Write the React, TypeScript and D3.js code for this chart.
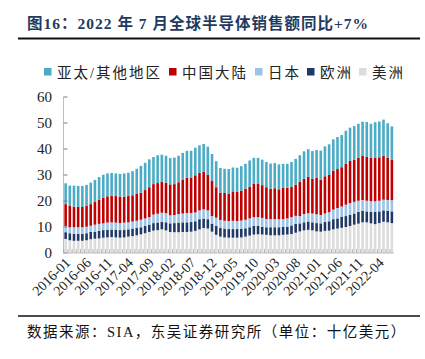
import React from "react";
import * as d3 from "d3";

const months = [
  "2016-01","2016-02","2016-03","2016-04","2016-05","2016-06","2016-07","2016-08","2016-09","2016-10","2016-11","2016-12",
  "2017-01","2017-02","2017-03","2017-04","2017-05","2017-06","2017-07","2017-08","2017-09","2017-10","2017-11","2017-12",
  "2018-01","2018-02","2018-03","2018-04","2018-05","2018-06","2018-07","2018-08","2018-09","2018-10","2018-11","2018-12",
  "2019-01","2019-02","2019-03","2019-04","2019-05","2019-06","2019-07","2019-08","2019-09","2019-10","2019-11","2019-12",
  "2020-01","2020-02","2020-03","2020-04","2020-05","2020-06","2020-07","2020-08","2020-09","2020-10","2020-11","2020-12",
  "2021-01","2021-02","2021-03","2021-04","2021-05","2021-06","2021-07","2021-08","2021-09","2021-10","2021-11","2021-12",
  "2022-01","2022-02","2022-03","2022-04","2022-05","2022-06","2022-07",
];

const tickLabels = [
  "2016-01","2016-06","2016-11","2017-04","2017-09","2018-02","2018-07","2018-12",
  "2019-05","2019-10","2020-03","2020-08","2021-01","2021-06","2021-11","2022-04",
];

const yTicks = [0, 10, 20, 30, 40, 50, 60];

const americas = [
  5.4,4.9,4.7,4.7,4.7,4.9,5.3,5.5,5.6,5.9,
  6.0,6.1,6.0,5.9,6.0,6.3,6.5,6.8,7.2,7.6,
  8.1,8.6,8.8,9.1,8.7,8.1,8.0,8.0,8.1,8.1,
  8.2,8.5,9.1,9.6,9.4,8.2,7.0,6.3,6.0,5.9,
  5.9,5.9,6.0,6.3,6.7,7.1,7.2,7.1,7.0,6.8,
  6.8,6.8,7.0,7.1,7.3,7.8,8.3,8.7,8.9,8.7,
  8.3,8.2,8.5,8.6,9.1,9.4,9.7,10.0,10.4,10.9,
  11.3,11.8,11.8,11.4,11.1,11.5,12.0,11.8,11.5,
];
const europe = [
  2.6,2.7,2.7,2.6,2.7,2.7,2.8,2.7,2.9,2.9,
  2.9,2.9,2.9,2.9,2.9,2.8,2.9,2.8,2.7,2.8,
  2.8,2.9,2.9,2.9,3.1,3.3,3.5,3.7,3.7,3.7,
  3.7,3.7,3.9,3.6,3.6,3.1,3.5,3.3,3.4,3.3,
  3.3,3.3,3.3,3.2,3.2,3.3,3.2,3.0,2.9,3.1,
  3.1,3.1,3.0,3.0,3.3,3.4,3.1,3.1,3.2,3.1,
  3.2,3.2,3.4,3.6,3.9,3.9,4.3,4.2,4.3,4.3,
  4.5,4.4,4.2,4.4,4.8,4.5,4.4,4.4,4.5,
];
const japan = [
  2.4,2.3,2.5,2.6,2.5,2.5,2.4,2.7,2.7,2.6,
  2.8,2.8,2.8,2.7,2.8,2.7,2.7,2.8,2.9,2.9,
  2.9,3.3,3.4,3.5,3.5,3.1,3.1,3.3,3.4,3.6,
  3.5,3.4,3.4,3.6,3.4,2.9,3.1,3.1,3.0,3.1,
  3.2,3.1,3.2,3.3,3.4,3.4,3.4,3.4,3.2,3.1,
  3.1,3.1,3.0,3.2,3.2,3.1,2.8,3.2,3.2,3.4,
  3.4,3.2,3.3,3.5,3.7,4.0,3.9,4.4,4.5,4.5,
  4.3,4.2,4.1,4.1,4.0,4.1,4.1,4.2,4.3,
];
const china = [
  8.4,8.2,7.9,7.8,7.8,8.0,8.3,8.7,9.2,9.9,
  10.1,10.2,10.2,10.2,10.0,10.1,10.1,10.3,10.4,10.9,
  11.5,11.7,11.8,11.9,11.7,11.9,11.9,12.2,12.9,13.5,
  13.6,14.3,14.4,14.4,13.7,13.5,11.7,10.5,10.7,10.6,
  11.3,11.3,11.5,11.9,12.2,12.8,12.9,12.6,12.2,11.7,
  11.9,11.5,12.0,11.8,11.7,12.0,13.2,13.5,14.0,13.4,
  14.0,13.6,14.3,14.3,15.0,15.0,15.1,15.7,16.2,16.1,
  16.5,16.9,16.9,16.7,16.7,16.7,16.9,16.2,15.5,
];
const apac = [
  8.0,7.8,8.1,8.1,8.1,8.1,8.3,8.5,8.8,8.8,
  8.8,8.8,8.7,8.7,8.9,9.0,9.3,9.7,10.3,10.5,
  10.7,10.4,10.7,10.4,10.4,10.1,10.2,10.2,10.4,10.4,
  10.3,10.6,10.6,10.7,10.8,10.4,10.0,9.5,9.3,9.4,
  9.2,9.2,9.4,9.6,10.1,10.0,9.9,9.8,9.7,9.7,
  9.7,9.6,9.3,9.2,9.5,9.9,10.2,10.6,10.6,10.6,
  10.7,11.2,11.5,11.8,12.0,12.3,12.4,12.7,12.8,13.0,
  13.1,13.2,13.4,13.1,13.7,13.8,13.9,13.3,12.9,
];

const seriesKeys = ["americas", "europe", "japan", "china", "apac"];
const seriesNames: Record<string, string> = {
  apac: "亚太/其他地区",
  china: "中国大陆",
  japan: "日本",
  europe: "欧洲",
  americas: "美洲",
};
const colors: Record<string, string> = {
  apac: "#4bacc6",
  china: "#c00000",
  japan: "#9dc3e6",
  europe: "#1f3864",
  americas: "#dcdcdc",
};
const legendOrder = ["apac", "china", "japan", "europe", "americas"];
const legendX = [44, 169, 255, 307, 359];

const W = 425;
const H = 359;
const plot = { left: 63.5, right: 394, top: 97, bottom: 253 };

const serif = "'Liberation Serif','Times New Roman','Noto Sans CJK SC',serif";
const cjk = "'Liberation Serif','Noto Sans CJK SC',sans-serif";

export default function App() {
  const table = months.map((m, i) => ({
    month: m,
    americas: americas[i],
    europe: europe[i],
    japan: japan[i],
    china: china[i],
    apac: apac[i],
  }));
  const stacked = d3.stack<any>().keys(seriesKeys)(table);

  const x = d3
    .scaleBand<string>()
    .domain(months)
    .range([plot.left, plot.right])
    .paddingInner(0.38)
    .paddingOuter(0.2);
  const y = d3.scaleLinear().domain([0, 60]).range([plot.bottom, plot.top]);
  const step = x.step();

  return (
    <div style={{ position: "absolute", left: 0, top: 0 }}>
      <svg width={W} height={H} style={{ display: "block", background: "#fff" }}>
        {/* title */}
        <text
          x={27}
          y={29}
          fontFamily={cjk}
          fontWeight="bold"
          fontSize={15.5}
          fill="#1f3a60"
          letterSpacing={1.0}
        >
          图16：2022 年 7 月全球半导体销售额同比+7%
        </text>
        <line x1={18} x2={420} y1={38.5} y2={38.5} stroke="#111" strokeWidth={2} />

        {/* legend */}
        {legendOrder.map((k, i) => (
          <g key={k}>
            <rect x={legendX[i]} y={68} width={7.5} height={7.5} fill={colors[k]} />
            <text
              x={legendX[i] + 13}
              y={77.5}
              fontFamily={cjk}
              fontSize={14.5}
              letterSpacing={2}
              fill="#222"
            >
              {seriesNames[k]}
            </text>
          </g>
        ))}

        {/* bars */}
        {stacked.map((s) => (
          <g key={s.key} fill={colors[s.key]}>
            {s.map((d, i) => (
              <rect
                key={i}
                x={x(months[i])}
                width={x.bandwidth()}
                y={y(d[1])}
                height={y(d[0]) - y(d[1])}
              />
            ))}
          </g>
        ))}

        {/* y axis */}
        <line x1={plot.left} x2={plot.left} y1={plot.top} y2={plot.bottom} stroke="#bfbfbf" strokeWidth={1} />
        {yTicks.map((t) => (
          <g key={t}>
            <line x1={plot.left} x2={plot.left + 4} y1={y(t)} y2={y(t)} stroke="#7f7f7f" strokeWidth={1} />
            <text
              x={52}
              y={y(t)}
              dy="0.35em"
              textAnchor="end"
              fontFamily={serif}
              fontSize={15}
              fill="#222"
            >
              {t}
            </text>
          </g>
        ))}

        {/* x axis */}
        <line x1={plot.left} x2={plot.right} y1={plot.bottom} y2={plot.bottom} stroke="#bfbfbf" strokeWidth={1} />
        {months.map((m, i) => (
          <line
            key={m}
            x1={plot.left + step * (i + 0.2) - 0.6}
            x2={plot.left + step * (i + 0.2) - 0.6}
            y1={plot.bottom - 4}
            y2={plot.bottom}
            stroke="#a6a6a6"
            strokeWidth={0.8}
          />
        ))}
        {tickLabels.map((t) => {
          const cx = (x(t) as number) + x.bandwidth() / 2 + 2;
          const cy = 260;
          return (
            <text
              key={t}
              transform={`translate(${cx},${cy}) rotate(-45)`}
              textAnchor="end"
              dy="0.35em"
              fontFamily={serif}
              fontSize={14}
              fill="#222"
            >
              {t}
            </text>
          );
        })}

        {/* source */}
        <line x1={18} x2={420} y1={316} y2={316} stroke="#111" strokeWidth={1.5} />
        <text x={27} y={337} fontFamily={cjk} fontSize={14.5} letterSpacing={1.5} fill="#111">
          数据来源：SIA，东吴证券研究所（单位：十亿美元）
        </text>
      </svg>
    </div>
  );
}
